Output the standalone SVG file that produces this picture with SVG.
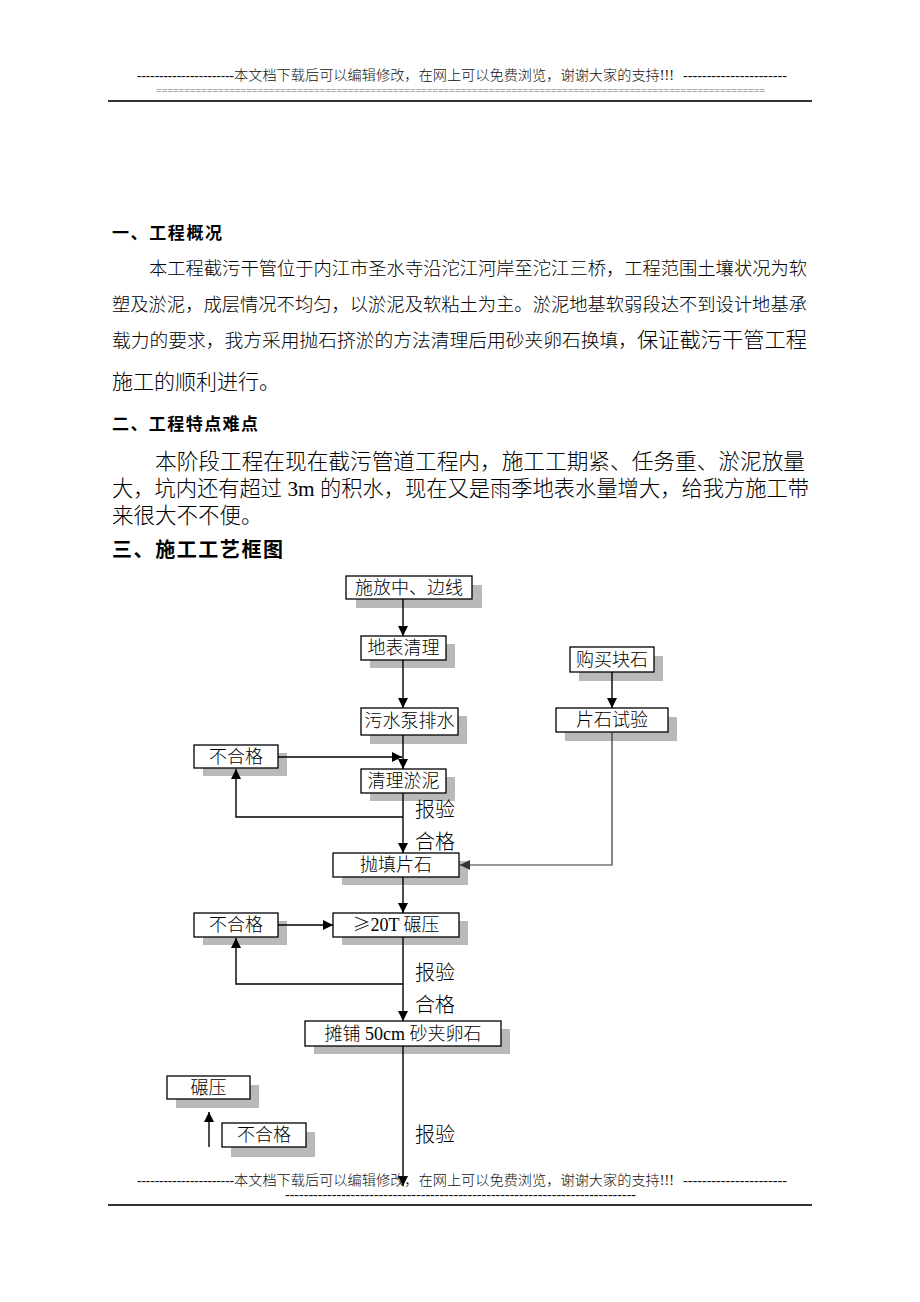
<svg xmlns="http://www.w3.org/2000/svg" width="920" height="1302" viewBox="0 0 920 1302">
<style>
.pg{font-family:"Liberation Serif","Noto Sans CJK SC",serif;fill:#000;font-weight:300}
.hd{font-family:"Liberation Serif","Noto Sans CJK SC",serif;font-size:14px;fill:#111;font-weight:300}
.h{font-family:"Liberation Sans","Noto Sans CJK SC",sans-serif;font-weight:bold;fill:#000}
.box{fill:#fff;stroke:#000;stroke-width:1.3}
.sh{fill:#b9b9b9}
.bt{font-family:"Liberation Serif","Noto Sans CJK SC",serif;font-size:18px;fill:#000;text-anchor:middle;font-weight:300}
.lb{font-family:"Liberation Serif","Noto Sans CJK SC",serif;font-size:20px;fill:#000;font-weight:300}
.ln{fill:none;stroke:#000;stroke-width:1.4}
.lg{fill:none;stroke:#333;stroke-width:1.2}
</style>
<defs>
<marker id="ah" markerUnits="userSpaceOnUse" markerWidth="10" markerHeight="10" refX="10" refY="5" orient="auto">
<path d="M0,0 L10,5 L0,10 z" fill="#000"/>
</marker>
<marker id="ahg" markerUnits="userSpaceOnUse" markerWidth="10" markerHeight="10" refX="10" refY="5" orient="auto">
<path d="M0,0 L10,5 L0,10 z" fill="#333"/>
</marker>
</defs>
<rect width="920" height="1302" fill="#fff"/>

<g id="header">
<text class="hd" x="137" y="80" textLength="97" lengthAdjust="spacingAndGlyphs">----------------------</text>
<text class="hd" x="234" y="80" textLength="440" lengthAdjust="spacingAndGlyphs">本文档下载后可以编辑修改，在网上可以免费浏览，谢谢大家的支持!!!</text>
<text class="hd" x="683" y="80" textLength="104" lengthAdjust="spacingAndGlyphs">----------------------</text>
<text x="156" y="94" font-family="'Liberation Serif',serif" font-size="10" fill="#666">============================================================================================================</text>
<rect x="108" y="100" width="704" height="2" fill="#333"/>
</g>

<g id="body">
<text class="h" x="112" y="239" font-size="17" textLength="110">一、工程概况</text>
<text class="pg" x="149" y="275" font-size="18.5" textLength="658" lengthAdjust="spacingAndGlyphs">本工程截污干管位于内江市圣水寺沿沱江河岸至沱江三桥，工程范围土壤状况为软</text>
<text class="pg" x="112" y="311" font-size="18.5" textLength="695" lengthAdjust="spacingAndGlyphs">塑及淤泥，成层情况不均匀，以淤泥及软粘土为主。淤泥地基软弱段达不到设计地基承</text>
<text class="pg" x="112" y="347" font-size="18.5" textLength="525" lengthAdjust="spacingAndGlyphs">载力的要求，我方采用抛石挤淤的方法清理后用砂夹卵石换填，</text>
<text class="pg" x="637" y="347" font-size="21" textLength="170" lengthAdjust="spacingAndGlyphs">保证截污干管工程</text>
<text class="pg" x="112" y="389" font-size="21">施工的顺利进行。</text>
<text class="h" x="112" y="430" font-size="17" textLength="146">二、工程特点难点</text>
<text class="pg" x="155" y="469" font-size="21.5" textLength="650" lengthAdjust="spacingAndGlyphs">本阶段工程在现在截污管道工程内，施工工期紧、任务重、淤泥放量</text>
<text class="pg" x="112" y="496" font-size="21.5" textLength="697" lengthAdjust="spacingAndGlyphs">大，坑内还有超过 3m 的积水，现在又是雨季地表水量增大，给我方施工带</text>
<text class="pg" x="112" y="523" font-size="21.5">来很大不不便。</text>
<text class="h" x="112" y="557" font-size="20" textLength="171">三、施工工艺框图</text>
</g>

<g id="n1"><rect class="sh" x="356" y="585" width="126" height="23"/><rect class="box" x="346" y="576" width="126" height="23"/><text class="bt" x="409" y="594">施放中、边线</text></g>
<g id="n2"><rect class="sh" x="370" y="644" width="85" height="24"/><rect class="box" x="361" y="636" width="85" height="24"/><text class="bt" x="403.5" y="654">地表清理</text></g>
<g id="n3"><rect class="sh" x="370" y="716" width="97" height="28"/><rect class="box" x="361" y="708" width="97" height="27"/><text class="bt" x="409.5" y="727">污水泵排水</text></g>
<g id="n4"><rect class="sh" x="203" y="753" width="84" height="23"/><rect class="box" x="194" y="745" width="84" height="23"/><text class="bt" x="236" y="763">不合格</text></g>
<g id="n5"><rect class="sh" x="370" y="777" width="85" height="24"/><rect class="box" x="361" y="769" width="85" height="24"/><text class="bt" x="403.5" y="787">清理淤泥</text></g>
<g id="n6"><rect class="sh" x="342" y="861" width="126" height="24"/><rect class="box" x="333" y="853" width="126" height="24"/><text class="bt" x="396" y="871">抛填片石</text></g>
<g id="n7"><rect class="sh" x="342" y="921" width="126" height="24"/><rect class="box" x="333" y="913" width="126" height="24"/><text class="bt" x="396" y="931"><tspan font-family="'Noto Sans CJK SC',sans-serif">≥</tspan>20T 碾压</text></g>
<g id="n8"><rect class="sh" x="203" y="921" width="84" height="24"/><rect class="box" x="194" y="913" width="84" height="24"/><text class="bt" x="236" y="931">不合格</text></g>
<g id="n9"><rect class="sh" x="314" y="1029" width="196" height="25"/><rect class="box" x="305" y="1021" width="196" height="25"/><text class="bt" x="403" y="1040">摊铺 50cm 砂夹卵石</text></g>
<g id="n10"><rect class="sh" x="579" y="656" width="84" height="25"/><rect class="box" x="570" y="647" width="84" height="25"/><text class="bt" x="612" y="666">购买块石</text></g>
<g id="n11"><rect class="sh" x="565" y="717" width="112" height="24"/><rect class="box" x="556" y="708" width="112" height="24"/><text class="bt" x="612" y="726">片石试验</text></g>
<g id="n12"><rect class="sh" x="176" y="1085" width="83" height="23"/><rect class="box" x="167" y="1076" width="83" height="23"/><text class="bt" x="208.5" y="1094">碾压</text></g>
<g id="n13"><rect class="sh" x="231" y="1132" width="84" height="25"/><rect class="box" x="222" y="1123" width="84" height="24"/><text class="bt" x="264" y="1141">不合格</text></g>

<g id="connectors">
<path class="ln" d="M403,599 V636" marker-end="url(#ah)"/>
<path class="ln" d="M403,660 V708" marker-end="url(#ah)"/>
<path class="ln" d="M403,735 V769" marker-end="url(#ah)"/>
<path class="ln" d="M278,757 H402" marker-end="url(#ah)"/>
<path class="ln" d="M403,793 V853" marker-end="url(#ah)"/>
<path class="ln" d="M403,817 H236 V769" marker-end="url(#ah)"/>
<path class="ln" d="M403,877 V913" marker-end="url(#ah)"/>
<path class="ln" d="M278,925 H333" marker-end="url(#ah)"/>
<path class="ln" d="M403,937 V1021" marker-end="url(#ah)"/>
<path class="ln" d="M403,984 H236 V938" marker-end="url(#ah)"/>
<path class="ln" d="M403,1046 V1186" marker-end="url(#ah)"/>
<path class="ln" d="M612,672 V708" marker-end="url(#ah)"/>
<path class="lg" d="M612,732 V865 H460" marker-end="url(#ahg)"/>
<path class="ln" d="M209,1147 V1112" marker-end="url(#ah)"/>
<text class="lb" x="415" y="817">报验</text>
<text class="lb" x="415" y="849">合格</text>
<text class="lb" x="415" y="980">报验</text>
<text class="lb" x="415" y="1012">合格</text>
<text class="lb" x="415" y="1142">报验</text>
</g>

<g id="footer">
<text class="hd" x="137" y="1185" textLength="97" lengthAdjust="spacingAndGlyphs">----------------------</text>
<text class="hd" x="234" y="1185" textLength="440" lengthAdjust="spacingAndGlyphs">本文档下载后可以编辑修改，在网上可以免费浏览，谢谢大家的支持!!!</text>
<text class="hd" x="683" y="1185" textLength="104" lengthAdjust="spacingAndGlyphs">----------------------</text>
<text class="hd" x="285" y="1199" font-size="11" textLength="351" lengthAdjust="spacingAndGlyphs">---------------------------------------------------------------------------</text>
<rect x="108" y="1204" width="704" height="2" fill="#333"/>
</g>
</svg>
